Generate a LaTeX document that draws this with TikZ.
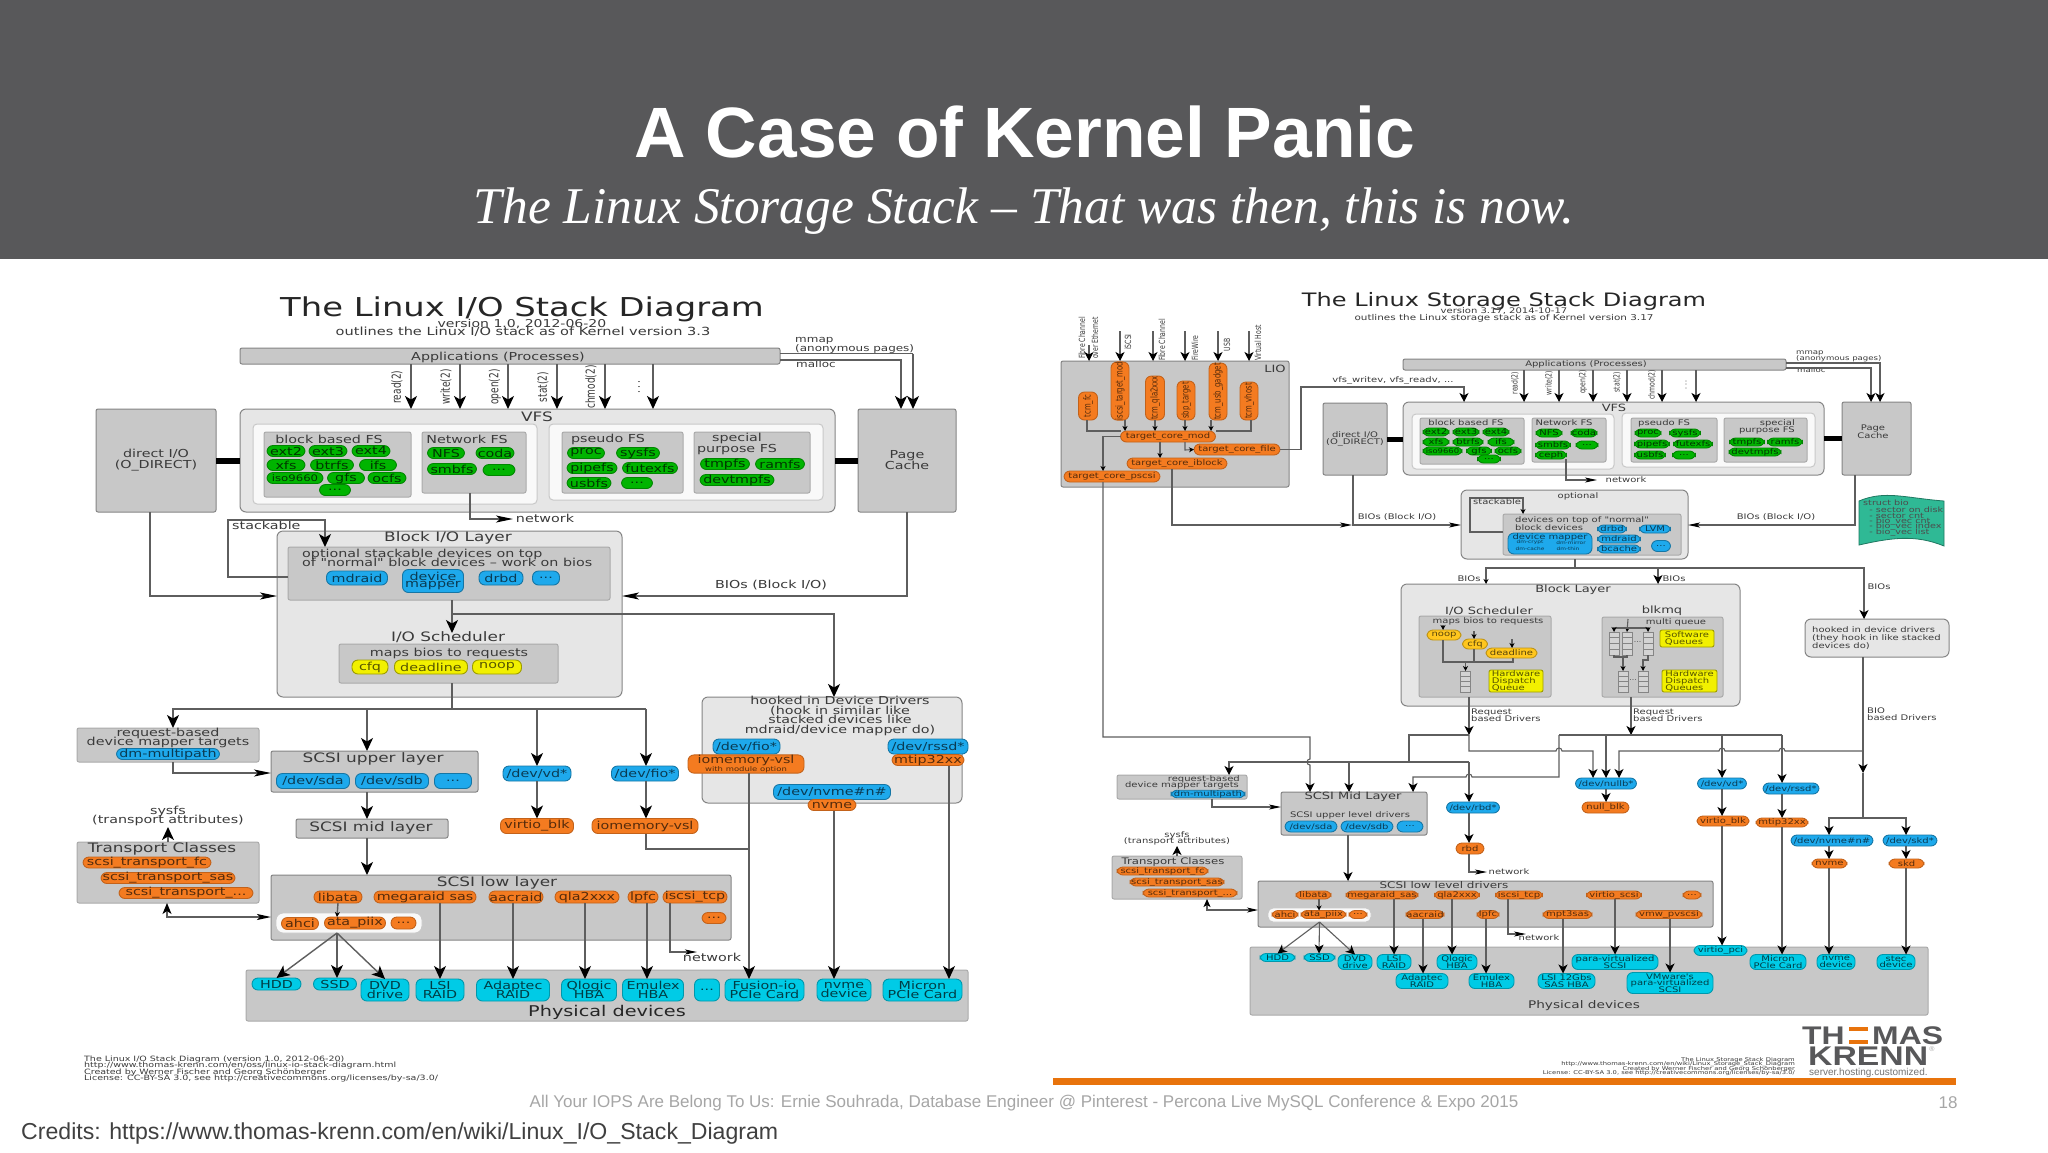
\documentclass[tikz,border=0pt]{standalone}
\usepackage{fontspec}
\usetikzlibrary{arrows.meta,calc}

\setmainfont{Liberation Sans}
\newfontfamily\dia[FakeStretch=1.3]{DejaVu Sans}
\newfontfamily\diaTall[FakeStretch=0.72]{DejaVu Sans}
\newfontfamily\serifFace{Liberation Serif}
\newfontfamily\logoFace[FakeStretch=1.25]{Liberation Sans}

\lineskiplimit=-100pt
\lineskip=0pt
\normallineskiplimit=-100pt
\normallineskip=0pt

\newcommand\dLeft{\dia\fontsize{11}{9.5}\selectfont}
\newcommand\dLeftB{\dia\fontsize{13}{11}\selectfont}
\newcommand\dLeftS{\dia\fontsize{9.2}{8}\selectfont}
\newcommand\dLeftV{\diaTall\fontsize{12.5}{12}\selectfont}
\newcommand\dRight{\dia\fontsize{7.7}{6.6}\selectfont}
\newcommand\dRightB{\dia\fontsize{10}{9}\selectfont}
\newcommand\dRightV{\diaTall\fontsize{8.5}{8}\selectfont}
\newcommand\dRightP{\diaTall\fontsize{9.6}{9}\selectfont}
\newcommand\threeDots{.\,.\,.}

\definecolor{bandGray}{HTML}{58585A}
\definecolor{boxGray}{HTML}{C8C8C8}
\definecolor{paleGray}{HTML}{E6E6E6}
\definecolor{panelWhite}{HTML}{F9F9F9}
\definecolor{frameGray}{HTML}{858585}
\definecolor{ink}{HTML}{3A3A3A}
\definecolor{lineGray}{HTML}{5E5E5E}
\definecolor{fsGreen}{HTML}{00B400}
\definecolor{blkBlue}{HTML}{1EA9EC}
\definecolor{drvOrange}{HTML}{F47B20}
\definecolor{devCyan}{HTML}{00CBE6}
\definecolor{schYellow}{HTML}{F2F000}
\definecolor{schGold}{HTML}{FFC61E}
\definecolor{bioGreen}{HTML}{2FB995}
\definecolor{barOrange}{HTML}{E8730C}
\definecolor{footGray}{HTML}{A6A6A6}

\tikzset{
  grayBox/.style 2 args={draw=frameGray,fill=boxGray,line width=1pt,rounded corners=2pt,anchor=north west,
    minimum width=#1pt,minimum height=#2pt,inner sep=0pt,outer sep=0pt,align=center},
  paleBox/.style 2 args={grayBox={#1}{#2},fill=paleGray,rounded corners=6pt},
  panelBox/.style 2 args={grayBox={#1}{#2},fill=panelWhite,draw=boxGray,rounded corners=4pt},
  softBox/.style 2 args={grayBox={#1}{#2},draw=boxGray!85!black},
  pill/.style 2 args={rounded corners=6pt,line width=0.9pt,minimum width=#1pt,minimum height=#2pt,
    inner sep=0pt,outer sep=0pt,align=center},
  fsPill/.style 2 args={pill={#1}{#2},fill=fsGreen,draw=fsGreen!75!black,text=fsGreen!30!black},
  blkPill/.style 2 args={pill={#1}{#2},fill=blkBlue,draw=blkBlue!70!black,text=blkBlue!35!black},
  drvPill/.style 2 args={pill={#1}{#2},fill=drvOrange,draw=drvOrange!80!black,text=drvOrange!35!black},
  devPill/.style 2 args={pill={#1}{#2},fill=devCyan,draw=devCyan!75!black,text=devCyan!30!black},
  schPill/.style 2 args={pill={#1}{#2},rounded corners=2pt,fill=schYellow,draw=schYellow!65!black,text=schYellow!35!black},
  capsule/.style={rounded corners=6pt},
  goldPill/.style 2 args={pill={#1}{#2},fill=schGold,draw=schGold!75!black,text=schGold!35!black},
  queueBox/.style 2 args={draw=frameGray,fill=boxGray!80,line width=0.8pt,minimum width=#1pt,minimum height=#2pt,
    inner sep=0pt,outer sep=0pt,path picture={\foreach \k in {.25,.5,.75}
      \draw[frameGray,line width=0.8pt] ($(path picture bounding box.north west)!\k!(path picture bounding box.south west)$)
        -- ($(path picture bounding box.north east)!\k!(path picture bounding box.south east)$);}},
  linkL/.style={draw=lineGray,line width=1.4pt},
  linkR/.style={draw=lineGray,line width=1.1pt},
  thickLink/.style={draw=black,line width=6pt},
  arrL/.style={-{Stealth[length=13pt,width=12pt,inset=3.5pt,color=black]}},
  arrLh/.style={-{Stealth[length=17pt,width=7pt,inset=4pt,color=black]}},
  arrR/.style={-{Stealth[length=9pt,width=9pt,inset=2.5pt,color=black]}},
  arrRh/.style={-{Stealth[length=12pt,width=5pt,inset=3pt,color=black]}},
  arrS/.style={-{Stealth[length=5pt,width=5pt,inset=1.5pt,color=black]}},
}

\begin{document}
\begin{tikzpicture}[x=1pt,y=-1pt]
  \useasboundingbox (0,0) rectangle (2048,1152);
  \fill[white] (0,0) rectangle (2048,1152);
  \fill[bandGray] (0,0) rectangle (2048,259);
  \node[white,font=\bfseries\fontsize{71.3}{71}\selectfont] at (1025,132) (SlideTitle) {A Case of Kernel Panic};
  \node[white,font=\serifFace\itshape\fontsize{51.5}{50}\selectfont] at (1024,211) (SlideSub) {The Linux Storage Stack – That was then, this is now.};

  % old stack
  \begin{scope}[nodes={font=\dLeft,text=ink,align=center,inner sep=0pt}]
    \node[font=\dia\fontsize{26}{26}\selectfont,text=black!85] at (522,309) (TitleL) {The Linux I/O Stack Diagram};
    \node[font=\dia\fontsize{10.8}{10}\selectfont] at (522,324) (VersionL) {version 1.0, 2012-06-20};
    \node[font=\dia\fontsize{11.2}{10}\selectfont] at (523,332) (OutlineL) {outlines the Linux I/O stack as of Kernel version 3.3};

    \node[grayBox={540}{16}] at (240,348) (AppsL) {};
    \node at (498,357) (AppsTextL) {Applications (Processes)};
    \node[grayBox={120}{103}] at (96,409) (DirectL) {direct I/O\\[1.5pt](O\_DIRECT)};
    \node[grayBox={98}{103}] at (858,409) (CacheL) {Page\\[1.5pt]Cache};
    \node[paleBox={595}{103}] at (240,409) (VfsL) {};
    \node[font=\dLeftB] at (537,417) (VfsTextL) {VFS};
    \node[panelBox={284}{80}] at (253,424) (PanelOneL) {};
    \node[panelBox={274}{76}] at (549,424) (PanelTwoL) {};

    \node[softBox={147}{65}] at (264,432) (BlockFsL) {};
    \node at (329,439) (BlockFsTextL) {block based FS};
    \node[fsPill={38}{11}] at (286,451) (Ext2L) {ext2};
    \node[fsPill={38}{11}] at (328,451) (Ext3L) {ext3};
    \node[fsPill={38}{11}] at (371,451) (Ext4L) {ext4};
    \node[fsPill={38}{11}] at (286,465) (XfsL) {xfs};
    \node[fsPill={43}{11}] at (332,465) (BtrfsL) {btrfs};
    \node[fsPill={37}{11}] at (378,465) (IfsL) {ifs};
    \node[fsPill={56}{11},font=\dia\fontsize{9}{9}\selectfont] at (295,478) (IsoL) {iso9660};
    \node[fsPill={37}{11}] at (346,478) (GfsL) {gfs};
    \node[fsPill={38}{11}] at (387,478) (OcfsL) {ocfs};
    \node[fsPill={31}{11}] at (335,490) (MoreBlockFsL) {...};
    \node[softBox={104}{61}] at (422,432) (NetFsL) {};
    \node at (467,439) (NetFsTextL) {Network FS};
    \node[fsPill={37}{11}] at (446,453) (NfsL) {NFS};
    \node[fsPill={38}{11}] at (495,453) (CodaL) {coda};
    \node[fsPill={49}{11}] at (452,469) (SmbfsL) {smbfs};
    \node[fsPill={32}{11}] at (499,470) (MoreNetFsL) {...};
    \node[softBox={121}{61}] at (562,432) (PseudoL) {};
    \node at (608,439) (PseudoTextL) {pseudo FS};
    \node[fsPill={37}{11}] at (586,453) (ProcL) {proc};
    \node[fsPill={43}{11}] at (638,453) (SysfsL) {sysfs};
    \node[fsPill={50}{11}] at (592,468) (PipefsL) {pipefs};
    \node[fsPill={55}{11}] at (650,468) (FutexfsL) {futexfs};
    \node[fsPill={44}{11}] at (589,483) (UsbfsL) {usbfs};
    \node[fsPill={31}{11}] at (637,483) (MorePseudoL) {...};
    \node[softBox={116}{61}] at (694,432) (SpecialL) {};
    \node at (737,444) (SpecialTextL) {special\\[1.5pt]purpose FS};
    \node[fsPill={49}{11}] at (725,464) (TmpfsL) {tmpfs};
    \node[fsPill={49}{11}] at (780,464) (RamfsL) {ramfs};
    \node[fsPill={74}{11}] at (737,480) (DevtmpfsL) {devtmpfs};

    \node[paleBox={345}{166}] at (277,531) (BlockIoL) {};
    \node[font=\dLeftB] at (448,538) (BlockIoTextL) {Block I/O Layer};
    \node[softBox={322}{53}] at (288,547) (StackBoxL) {};
    \node[align=left,anchor=west] at (302,558) (StackTextL) {optional stackable devices on top\\of "normal" block devices – work on bios};
    \node[blkPill={61}{14}] at (357,578) (MdraidL) {mdraid};
    \node[blkPill={61}{23}] at (433,581) (MapperL) {device\\[-2.5pt]mapper};
    \node[blkPill={44}{14}] at (501,578) (DrbdL) {drbd};
    \node[blkPill={27}{14}] at (546,578) (MoreStackL) {...};
    \node[font=\dLeftB] at (448,637) (SchedTextL) {I/O Scheduler};
    \node[softBox={219}{39}] at (339,644) (SchedBoxL) {};
    \node at (449,653) (SchedNoteL) {maps bios to requests};
    \node[schPill={36}{14},capsule] at (370,667) (CfqL) {cfq};
    \node[schPill={73}{14},capsule] at (431,667) (DeadlineL) {deadline};
    \node[schPill={49}{14},capsule] at (497,667) (NoopL) {noop};

    \node[softBox={182}{34}] at (77,728) (ReqBoxL) {};
    \node at (168,738) (ReqTextL) {request-based\\device mapper targets};
    \node[blkPill={103}{11}] at (168,754) (MultipathL) {dm-multipath};
    \node[grayBox={207}{41}] at (271,751) (UpperL) {};
    \node[font=\dLeftB] at (373,759) (UpperTextL) {SCSI upper layer};
    \node[blkPill={73}{15}] at (313,781) (SdaL) {/dev/sda};
    \node[blkPill={73}{15}] at (392,781) (SdbL) {/dev/sdb};
    \node[blkPill={37}{15}] at (453,781) (MoreUpperL) {...};
    \node[grayBox={152}{19}] at (296,819) (MidL) {};
    \node[font=\dLeftB] at (371,828) (MidTextL) {SCSI mid layer};
    \node[blkPill={68}{15}] at (537,773.5) (VdL) {/dev/vd*};
    \node[drvPill={73}{15}] at (537,826) (VirtioL) {virtio\_blk};
    \node[blkPill={67}{15}] at (645,773.5) (FioL) {/dev/fio*};
    \node[drvPill={106}{15}] at (645,826) (IomemL) {iomemory-vsl};

    \node[paleBox={260}{106}] at (702,697) (HookedL) {};
    \node at (840,716) (HookedTextL) {hooked in Device Drivers\\(hook in similar like\\stacked devices like\\mdraid/device mapper do)};
    \node[blkPill={67}{15}] at (746.5,746.5) (HookFioL) {/dev/fio*};
    \node[drvPill={116}{18}] at (746,764) (HookIomemL) {iomemory-vsl\\[-1pt]{\dia\fontsize{6.5}{6}\selectfont with module option}};
    \node[blkPill={80}{15}] at (928,746.5) (RssdL) {/dev/rssd*};
    \node[drvPill={72}{11}] at (928,760) (MtipL) {mtip32xx};
    \node[blkPill={117}{15}] at (832,792) (NvmeDevL) {/dev/nvme\#n\#};
    \node[drvPill={48}{11}] at (832,805) (NvmeL) {nvme};

    \node[softBox={182}{61}] at (77,842) (TransportL) {};
    \node[font=\dLeftB] at (162,849) (TransportTextL) {Transport Classes};
    \node[drvPill={128}{11}] at (147,862.5) (TransFcL) {scsi\_transport\_fc};
    \node[drvPill={134}{11}] at (168,878) (TransSasL) {scsi\_transport\_sas};
    \node[drvPill={134}{11}] at (186,893) (TransDotL) {scsi\_transport\_...};
    \node at (168,816) (SysfsTextL) {sysfs\\(transport attributes)};

    \node[grayBox={460}{65}] at (271,875) (LowL) {};
    \node[font=\dLeftB] at (497,883) (LowTextL) {SCSI low layer};
    \node[drvPill={48}{12}] at (338,897) (LibataL) {libata};
    \node[drvPill={102}{12}] at (425,897) (MegaraidL) {megaraid sas};
    \node[drvPill={54}{12}] at (516,897) (AacraidL) {aacraid};
    \node[drvPill={64}{12}] at (587,897) (QlaL) {qla2xxx};
    \node[drvPill={30}{12}] at (643,897) (LpfcL) {lpfc};
    \node[drvPill={64}{12}] at (695,897) (IscsiL) {iscsi\_tcp};
    \node[drvPill={24}{11}] at (714,918) (MoreLowL) {...};
    \node[pill={146}{20},fill=panelWhite,draw=boxGray,rounded corners=7pt] at (349,923) (AhciWrapL) {};
    \node[drvPill={37}{12}] at (300,923.5) (AhciL) {ahci};
    \node[drvPill={61}{12}] at (355,923) (PiixL) {ata\_piix};
    \node[drvPill={25}{12}] at (403.5,923) (MorePiixL) {...};
    \node at (712,957) (NetTwoL) {network};

    \node[softBox={722}{51}] at (246,970) (PhysL) {};
    \node[font=\dia\fontsize{14.8}{14.8}\selectfont,text=black!85] at (607,1012) (PhysTextL) {Physical devices};
    \node[devPill={49}{12}] at (276.5,984) (HddL) {HDD};
    \node[devPill={43}{12}] at (335,984) (SsdL) {SSD};
    \node[devPill={48}{22}] at (385,990) (DvdL) {DVD\\drive};
    \node[devPill={48}{22}] at (440,990) (LsiL) {LSI\\RAID};
    \node[devPill={73}{22}] at (513,990) (AdaptecL) {Adaptec\\RAID};
    \node[devPill={55}{22}] at (589,990) (QlogicL) {Qlogic\\HBA};
    \node[devPill={61}{22}] at (653,990) (EmulexL) {Emulex\\HBA};
    \node[devPill={25}{22}] at (707,990) (MorePhysL) {...};
    \node[devPill={79}{22}] at (764.5,990) (FusionL) {Fusion-io\\PCIe Card};
    \node[devPill={54}{22}] at (844,990) (NvmeCardL) {nvme\\device};
    \node[devPill={79}{22}] at (922.5,990) (MicronL) {Micron\\PCIe Card};

    \node[font=\dia\fontsize{7.3}{6.2}\selectfont,align=left,anchor=north west] at (84,1056) (CreditL) {The Linux I/O Stack Diagram (version 1.0, 2012-06-20)\\http://www.thomas-krenn.com/en/oss/linux-io-stack-diagram.html\\Created by Werner Fischer and Georg Schönberger\\License: CC-BY-SA 3.0, see http://creativecommons.org/licenses/by-sa/3.0/};

    \node[font=\dLeftS,anchor=west] at (795,341) (MmapL) {mmap};
    \node[font=\dLeftS,anchor=west] at (795,349) (AnonL) {(anonymous pages)};
    \node[font=\dLeftS,anchor=west] at (796,364) (MallocL) {malloc};
    \node at (545,518) (NetOneL) {network};
    \node[anchor=west] at (232,525) (StackableL) {stackable};
    \node at (771,585) (BiosL) {BIOs (Block I/O)};

    \foreach \nm/\x/\t in {Read/397/read(2),Write/446/write(2),Open/495/open(2),Stat/543/stat(2),Chmod/591/chmod(2),Dots/639/\threeDots}
      \node[rotate=90,font=\dLeftV] at (\x,387) (Call\nm L) {\t};
    \foreach \x in {411,460,508,557,605,653}
      \draw[linkL,arrL] (AppsL.south -| \x,0) -- (VfsL.north -| \x,0);

    \draw[thickLink] (DirectL.east) -- (VfsL.west);
    \draw[thickLink] (VfsL.east) -- (CacheL.west);
    \draw[linkL] (AppsL.east |- 0,353.5) -- (913,353.5);
    \draw[linkL,arrL] (913,353.5) -- (CacheL.north -| 913,0);
    \draw[linkL,arrL] (AppsL.east |- 0,360) -- (901,360) -- (CacheL.north -| 901,0);
    \draw[linkL,arrLh] (NetFsL.south -| 470,0) -- (470,519) -- (513,519);
    \draw[linkL,arrL] (StackBoxL.west |- 0,577) -- (228,577) -- (228,520) -- (325,520) -- (StackBoxL.north -| 325,0);
    \draw[linkL,arrLh] (DirectL.south -| 150,0) -- (150,596) -- (BlockIoL.west |- 0,596);
    \draw[linkL,arrLh] (CacheL.south) -- (CacheL.south |- 0,596) -- (BlockIoL.east |- 0,596);
    \draw[linkL,arrL] (StackBoxL.south -| 452,0) -- (452,633);
    \draw[linkL,arrL] (452,614) -- (834,614) -- (HookedL.north -| 834,0);
    \draw[linkL] (SchedBoxL.south -| 452,0) -- (452,709);
    \draw[linkL,arrL] (646,709) -- (173,709) -- (ReqBoxL.north -| 173,0);
    \draw[linkL,arrL] (367,709) -- (UpperL.north -| 367,0);
    \draw[linkL,arrL] (537,709) -- (VdL.north);
    \draw[linkL,arrL] (646,709) -- (FioL.north -| 646,0);
    \draw[linkL,arrLh] (ReqBoxL.south -| 173,0) -- (173,773) -- (UpperL.west |- 0,773);
    \draw[linkL,arrL] (UpperL.south -| 367,0) -- (MidL.north -| 367,0);
    \draw[linkL,arrL] (MidL.south -| 367,0) -- (LowL.north -| 367,0);
    \draw[linkL,arrL] (VdL.south) -- (VirtioL.north);
    \draw[linkL,arrL] (FioL.south -| 646,0) -- (IomemL.north -| 646,0);
    \draw[linkL] (IomemL.south -| 646,0) -- (646,849) -- (749,849);
    \draw[linkL,arrL] (HookIomemL.south -| 749,0) -- (FusionL.north -| 749,0);
    \draw[linkL,arrL] (NvmeL.south -| 834,0) -- (NvmeCardL.north -| 834,0);
    \draw[linkL,arrL] (MtipL.south -| 949,0) -- (MicronL.north -| 949,0);
    \draw[linkL,arrL] (TransportL.north -| 168,0) -- (168,827);
    \draw[linkL,{Stealth[length=11pt,width=9pt,inset=3pt,color=black]}-{Stealth[length=14pt,width=6pt,inset=3pt,color=black]}] (TransportL.south -| 167,0) -- (167,917) -- (LowL.west |- 0,917);
    \draw[linkL,arrS] (LibataL.south) -- (PiixL.north -| 337,0);
    \draw[linkL,arrL] (AhciWrapL.south -| 337,0) -- (HddL.north);
    \draw[linkL,arrL] (AhciWrapL.south -| 337,0) -- (SsdL.north -| 337,0);
    \draw[linkL,arrL] (AhciWrapL.south -| 337,0) -- (DvdL.north);
    \draw[linkL,arrL] (MegaraidL.south -| 440,0) -- (LsiL.north);
    \draw[linkL,arrL] (AacraidL.south -| 513,0) -- (AdaptecL.north);
    \draw[linkL,arrL] (QlaL.south -| 585,0) -- (QlogicL.north -| 585,0);
    \draw[linkL,arrL] (LpfcL.south -| 647,0) -- (EmulexL.north -| 647,0);
    \draw[linkL,arrRh] (IscsiL.south -| 670,0) -- (670,952) -- (697,952);
  \end{scope}

  % new stack
  \begin{scope}[nodes={font=\dRight,text=ink,align=center,inner sep=0pt}]
    \node[font=\dia\fontsize{18.5}{18.5}\selectfont,text=black!85] at (1504,301) (TitleR) {The Linux Storage Stack Diagram};
    \node[font=\dia\fontsize{7.7}{7}\selectfont] at (1504,311.5) (VersionR) {version 3.17, 2014-10-17};
    \node[font=\dia\fontsize{8}{7}\selectfont] at (1504,318) (OutlineR) {outlines the Linux storage stack as of Kernel version 3.17};

    \node[grayBox={228}{126}] at (1061,361) (LioR) {};
    \node[font=\dRightB] at (1275,369) (LioTextR) {LIO};
    \node[drvPill={28}{19},rotate=90,font=\dRightP] at (1088,406) (TcmFcR) {tcm\_fc};
    \node[drvPill={58}{18},rotate=90,font=\dRightP] at (1120,391) (TargetModR) {iscsi\_target\_mod};
    \node[drvPill={44}{19},rotate=90,font=\dRightP] at (1155,398) (TcmQlaR) {tcm\_qla2xxx};
    \node[drvPill={39}{18},rotate=90,font=\dRightP] at (1186,400.5) (SbpR) {sbp\_target};
    \node[drvPill={57}{18},rotate=90,font=\dRightP] at (1218,391.5) (TcmUsbR) {tcm\_usb\_gadget};
    \node[drvPill={38}{18},rotate=90,font=\dRightP] at (1249,401) (TcmVhostR) {tcm\_vhost};
    \node[drvPill={95}{11}] at (1168,436.5) (CoreModR) {target\_core\_mod};
    \node[drvPill={86}{11}] at (1237,449.5) (CoreFileR) {target\_core\_file};
    \node[drvPill={100}{11}] at (1177,463.5) (CoreBlockR) {target\_core\_iblock};
    \node[drvPill={96}{11}] at (1112,476.5) (CorePscsiR) {target\_core\_pscsi};

    \node[grayBox={383}{11}] at (1403,359) (AppsR) {};
    \node at (1586,364.5) (AppsTextR) {Applications (Processes)};
    \node[grayBox={64}{72}] at (1323,403) (DirectR) {direct I/O\\[1pt](O\_DIRECT)};
    \node[grayBox={69}{73}] at (1842,402) (CacheR) {};
    \node at (1873,432) (CacheTextR) {Page\\[1pt]Cache};
    \node[paleBox={421}{73}] at (1403,402) (VfsR) {};
    \node[font=\dRightB] at (1614,408) (VfsTextR) {VFS};
    \node[panelBox={202}{55}] at (1412,414) (PanelOneR) {};
    \node[panelBox={193}{54}] at (1622,413) (PanelTwoR) {};
    \node[softBox={104}{46}] at (1420,418) (BlockFsR) {};
    \node at (1466,423) (BlockFsTextR) {block based FS};
    \node[fsPill={26}{8}] at (1436,432) (Ext2R) {ext2};
    \node[fsPill={26}{8}] at (1466,432) (Ext3R) {ext3};
    \node[fsPill={26}{8}] at (1496,432) (Ext4R) {ext4};
    \node[fsPill={26}{8}] at (1436,442) (XfsR) {xfs};
    \node[fsPill={30}{8}] at (1468,442) (BtrfsR) {btrfs};
    \node[fsPill={26}{8}] at (1501,442) (IfsR) {ifs};
    \node[fsPill={39}{8},font=\dia\fontsize{6.5}{6}\selectfont] at (1442.5,451) (IsoR) {iso9660};
    \node[fsPill={25}{8}] at (1479,451) (GfsR) {gfs};
    \node[fsPill={26}{8}] at (1508,451) (OcfsR) {ocfs};
    \node[fsPill={23}{8}] at (1489,459) (MoreBlockFsR) {...};
    \node[softBox={74}{44}] at (1532,418) (NetFsR) {};
    \node at (1564,423) (NetFsTextR) {Network FS};
    \node[fsPill={26}{8}] at (1549,433) (NfsR) {NFS};
    \node[fsPill={26}{8}] at (1584,433) (CodaR) {coda};
    \node[fsPill={35}{8}] at (1553,445) (SmbfsR) {smbfs};
    \node[fsPill={22}{8}] at (1587,445) (MoreNetFsR) {...};
    \node[fsPill={31}{8}] at (1551,455) (CephR) {ceph};
    \node[softBox={86}{44}] at (1631,418) (PseudoR) {};
    \node at (1664,423) (PseudoTextR) {pseudo FS};
    \node[fsPill={26}{8}] at (1648,433) (ProcR) {proc};
    \node[fsPill={31}{8}] at (1685,433) (SysfsR) {sysfs};
    \node[fsPill={35}{8}] at (1652,444) (PipefsR) {pipefs};
    \node[fsPill={39}{8}] at (1693,444) (FutexfsR) {futexfs};
    \node[fsPill={31}{8}] at (1650,455) (UsbfsR) {usbfs};
    \node[fsPill={23}{8}] at (1684,455) (MorePseudoR) {...};
    \node[softBox={83}{44}] at (1724,418) (SpecialR) {};
    \node[anchor=east,align=right] at (1795,427) (SpecialTextR) {special\\[1pt]purpose FS};
    \node[fsPill={35}{8}] at (1747,442) (TmpfsR) {tmpfs};
    \node[fsPill={35}{8}] at (1785,442) (RamfsR) {ramfs};
    \node[fsPill={52}{8}] at (1755,452) (DevtmpfsR) {devtmpfs};

    \draw[draw=bioGreen!65!black,fill=bioGreen,line width=0.8pt] (1859,501) .. controls (1885,490) and (1905,498) .. (1944,501) -- (1944,546) .. controls (1915,534) and (1890,538) .. (1859,545) -- cycle;
    \node[align=left,anchor=north west,text=black!70,font=\dia\fontsize{7.4}{5.4}\selectfont] at (1863,500) (StructBioR) {struct bio\\[1.5pt]\ \ - sector on disk\\\ \ - sector cnt\\\ \ - bio\_vec cnt\\\ \ - bio\_vec index\\\ \ - bio\_vec list};

    \node[paleBox={227}{69}] at (1461,490) (OptionalR) {};
    \node at (1578,496) (OptionalTextR) {optional};
    \node[softBox={178}{41}] at (1503,514) (StackBoxR) {};
    \node[align=left,anchor=west] at (1515,524) (StackTextR) {devices on top of "normal"\\[1.5pt]block devices};
    \node[blkPill={84}{21}] at (1550,543.5) (MapperR) {};
    \node[text=blkBlue!35!black] at (1550,537) (MapperTextR) {device mapper};
    \node[font=\dia\fontsize{4.5}{4.5}\selectfont,text=blkBlue!35!black] at (1530,542.5) (CryptR) {dm-crypt};
    \node[font=\dia\fontsize{4.5}{4.5}\selectfont,text=blkBlue!35!black] at (1571,542.5) (MirrorR) {dm-mirror};
    \node[font=\dia\fontsize{4.5}{4.5}\selectfont,text=blkBlue!35!black] at (1530,548.5) (CacheDmR) {dm-cache};
    \node[font=\dia\fontsize{4.5}{4.5}\selectfont,text=blkBlue!35!black] at (1568,548.5) (ThinR) {dm-thin};
    \node[blkPill={29}{8}] at (1612,529) (DrbdR) {drbd};
    \node[blkPill={31}{8}] at (1655,529) (LvmR) {LVM};
    \node[blkPill={43}{8}] at (1619,539) (MdraidR) {mdraid};
    \node[blkPill={43}{8}] at (1619,549) (BcacheR) {bcache};
    \node[blkPill={19}{11}] at (1661,546) (MoreStackR) {...};

    \node[paleBox={339}{122}] at (1401,584) (BlockR) {};
    \node[font=\dRightB] at (1573,590) (BlockTextR) {Block Layer};
    \node[font=\dRightB] at (1489,611) (SchedTextR) {I/O Scheduler};
    \node[softBox={132}{81}] at (1419,616) (SchedBoxR) {};
    \node at (1488,621) (SchedNoteR) {maps bios to requests};
    \node[goldPill={34}{10}] at (1444,635) (NoopR) {noop};
    \node[goldPill={25}{10}] at (1475,644) (CfqR) {cfq};
    \node[goldPill={51}{10}] at (1511.5,653) (DeadlineR) {deadline};
    \node[queueBox={10}{21}] at (1465.5,681.5) (QueueR) {};
    \node[schPill={54}{22},align=left] at (1516,681) (DispatchR) {Hardware\\Dispatch\\Queue};
    \node[font=\dRightB] at (1662,611) (MqTextR) {blkmq};
    \node[softBox={121}{80}] at (1602,617) (MqBoxR) {};
    \node at (1676,622) (MqNoteR) {multi queue};
    \node[schPill={54}{17},align=left] at (1687,638.5) (SoftQueueR) {Software\\Queues};
    \node[schPill={55}{22},align=left] at (1689.5,681) (MqDispatchR) {Hardware\\Dispatch\\Queues};
    \node[queueBox={10}{23}] at (1614,643.5) (SwOneR) {};
    \node[queueBox={10}{23}] at (1627,643.5) (SwTwoR) {};
    \node[queueBox={10}{23}] at (1648,643.5) (SwThreeR) {};
    \node[queueBox={10}{21}] at (1623,681.5) (HwOneR) {};
    \node[queueBox={10}{21}] at (1643,681.5) (HwTwoR) {};
    \node[font=\dia\fontsize{6}{6}\selectfont] at (1637.5,642) (SwDotsR) {...};
    \node[font=\dia\fontsize{6}{6}\selectfont] at (1633,680) (HwDotsR) {...};
    \node[align=left,anchor=west] at (1471,715.5) (ReqNoteOneR) {Request\\based Drivers};
    \node[align=left,anchor=west] at (1633,715.5) (ReqNoteTwoR) {Request\\based Drivers};
    \node at (1469,579) (BiosOneR) {BIOs};
    \node at (1674,579) (BiosTwoR) {BIOs};
    \node at (1879,587) (BiosThreeR) {BIOs};

    \node[paleBox={144}{38}] at (1805,619) (HookedR) {};
    \node[align=left,anchor=west] at (1812,638) (HookedTextR) {hooked in device drivers\\[1.5pt](they hook in like stacked\\[1.5pt]devices do)};
    \node[align=left,anchor=west] at (1867,714) (BioNoteR) {BIO\\based Drivers};

    \node[softBox={130}{24}] at (1117,775) (ReqBoxR) {};
    \node[anchor=east] at (1240,779) (ReqTextOneR) {request-based};
    \node at (1182,785) (ReqTextTwoR) {device mapper targets};
    \node[blkPill={74}{7}] at (1208,794) (MultipathR) {dm-multipath};
    \node[grayBox={146}{43}] at (1281,792) (MidR) {};
    \node[font=\dRightB] at (1353,797) (MidTextR) {SCSI Mid Layer};
    \node at (1350,815) (UpperTextR) {SCSI upper level drivers};
    \node[blkPill={52}{11}] at (1311,826.5) (SdaR) {/dev/sda};
    \node[blkPill={52}{11}] at (1367,826.5) (SdbR) {/dev/sdb};
    \node[blkPill={26}{11}] at (1410,826.5) (MoreUpperR) {...};
    \node[blkPill={53}{11}] at (1473,807.5) (RbdDevR) {/dev/rbd*};
    \node[drvPill={28}{11}] at (1470,848.5) (RbdR) {rbd};
    \node at (1509,872) (NetRbdR) {network};
    \node[blkPill={61}{11}] at (1606,783.5) (NullDevR) {/dev/nullb*};
    \node[drvPill={47}{11}] at (1605.5,807.5) (NullBlkR) {null\_blk};
    \node[blkPill={49}{11}] at (1722,783.5) (VdR) {/dev/vd*};
    \node[drvPill={52}{10}] at (1723,821) (VirtioBlkR) {virtio\_blk};
    \node[blkPill={56}{11}] at (1791,788.5) (RssdR) {/dev/rssd*};
    \node[drvPill={52}{9}] at (1782,822.5) (MtipR) {mtip32xx};
    \node[blkPill={82}{11}] at (1832,840.5) (NvmeDevR) {/dev/nvme\#n\#};
    \node[blkPill={54}{11}] at (1910,840.5) (SkdDevR) {/dev/skd*};
    \node[drvPill={35}{9}] at (1829.5,863.5) (NvmeR) {nvme};
    \node[drvPill={35}{9}] at (1906.5,863.5) (SkdR) {skd};

    \node[softBox={130}{43}] at (1112,856) (TransportR) {};
    \node[font=\dia\fontsize{9}{9}\selectfont] at (1173,862) (TransportTextR) {Transport Classes};
    \node[drvPill={91}{8}] at (1162.5,871) (TransFcR) {scsi\_transport\_fc};
    \node[drvPill={94}{8}] at (1177,882) (TransSasR) {scsi\_transport\_sas};
    \node[drvPill={94}{8}] at (1190,893) (TransDotR) {scsi\_transport\_...};
    \node at (1177,838.5) (SysfsTextR) {sysfs\\(transport attributes)};

    \node[grayBox={455}{46}] at (1258,881) (LowR) {};
    \node[font=\dia\fontsize{9.2}{9}\selectfont] at (1444,885) (LowTextR) {SCSI low level drivers};
    \node[drvPill={35}{8}] at (1313.5,895) (LibataR) {libata};
    \node[drvPill={72}{8}] at (1382,895) (MegaraidR) {megaraid\_sas};
    \node[drvPill={45}{8}] at (1457,895) (QlaR) {qla2xxx};
    \node[drvPill={47}{8}] at (1519,895) (IscsiR) {iscsi\_tcp};
    \node[drvPill={55}{8}] at (1614,895) (VirtioScsiR) {virtio\_scsi};
    \node[drvPill={18}{8}] at (1692,895) (MoreLowR) {...};
    \node[pill={103}{14},fill=panelWhite,draw=boxGray,rounded corners=5pt] at (1319.5,915) (AhciWrapR) {};
    \node[drvPill={26}{8}] at (1285,914.5) (AhciR) {ahci};
    \node[drvPill={45}{8}] at (1323.5,914.5) (PiixR) {ata\_piix};
    \node[drvPill={18}{8}] at (1358,914.5) (MorePiixR) {...};
    \node[drvPill={38}{8}] at (1425,914.5) (AacraidR) {aacraid};
    \node[drvPill={22}{8}] at (1488,914.5) (LpfcR) {lpfc};
    \node[drvPill={49}{8}] at (1567.5,914.5) (MptR) {mpt3sas};
    \node[drvPill={66}{8}] at (1669,914.5) (VmwR) {vmw\_pvscsi};
    \node at (1539,938) (NetScsiR) {network};

    \node[softBox={678}{68}] at (1250,947) (PhysR) {};
    \node[font=\dia\fontsize{10.5}{10}\selectfont] at (1584,1006) (PhysTextR) {Physical devices};
    \node[devPill={35}{8}] at (1277.5,957.5) (HddR) {HDD};
    \node[devPill={31}{8}] at (1319.5,957.5) (SsdR) {SSD};
    \node[devPill={34}{15}] at (1355,962) (DvdR) {DVD\\drive};
    \node[devPill={34}{15}] at (1394,962) (LsiR) {LSI\\RAID};
    \node[devPill={40}{15}] at (1457,962) (QlogicR) {Qlogic\\HBA};
    \node[devPill={52}{15}] at (1422,981) (AdaptecR) {Adaptec\\RAID};
    \node[devPill={45}{15}] at (1491.5,981) (EmulexR) {Emulex\\HBA};
    \node[devPill={57}{15}] at (1566.5,981) (Sas12R) {LSI 12Gbs\\SAS HBA};
    \node[devPill={86}{15}] at (1615,962) (ParaR) {para-virtualized\\SCSI};
    \node[devPill={86}{21}] at (1670,983) (VmwareR) {VMware's\\para-virtualized\\SCSI};
    \node[devPill={53}{10}] at (1720.5,950.5) (VirtioPciR) {virtio\_pci};
    \node[devPill={56}{15}] at (1778,962) (MicronR) {Micron\\PCIe Card};
    \node[devPill={38}{15}] at (1836,962) (NvmeCardR) {nvme\\device};
    \node[devPill={38}{15}] at (1896,962) (StecR) {stec\\device};

    \node[font=\dia\fontsize{6.6}{6}\selectfont,anchor=west] at (1796,353) (MmapR) {mmap};
    \node[font=\dia\fontsize{6.6}{6}\selectfont,anchor=west] at (1796,359) (AnonR) {(anonymous pages)};
    \node[font=\dia\fontsize{6.6}{6}\selectfont,anchor=west] at (1797,370) (MallocR) {malloc};
    \node at (1393,380) (WritevR) {vfs\_writev, vfs\_readv, ...};
    \node at (1397,517) (BiosBlockR) {BIOs (Block I/O)};
    \node at (1776,517) (BiosCacheR) {BIOs (Block I/O)};
    \node at (1626,480) (NetVfsR) {network};

    \foreach \nm/\x/\y/\t in {Read/1515/383/read(2),Write/1549/383/write(2),Open/1583/382/open(2),Stat/1617/382/stat(2),Chmod/1652/385/chmod(2),Dots/1686/385/\threeDots}
      \node[rotate=90,font=\dRightV] at (\x,\y) (Call\nm R) {\t};
    \foreach \x in {1524,1559,1593,1627,1662,1696}
      \draw[linkR,arrR] (AppsR.south -| \x,0) -- (VfsR.north -| \x,0);

    \foreach \nm/\x/\y/\t in {FcoeA/1082/338/Fibre Channel,FcoeB/1095/338/over Ethernet,Iscsi/1128/342/iSCSI,Fc/1162/340/Fibre Channel,Fire/1195/348/FireWire,Usb/1227/345/USB,Virt/1258/343/Virtual Host}
      \node[rotate=90,font=\dRightV] at (\x,\y) (Port\nm R) {\t};
    \foreach \nm/\x/\y in {Fcoe/1089/345,Iscsi/1120/331,Fc/1153/331,Fire/1185/331,Usb/1218/331,Virt/1249/331}{
      \coordinate (In\nm) at (\x,\y);
      \draw[linkR,arrR] (In\nm) -- (LioR.north -| \x,0);
    }

    \draw[linkR] (TcmFcR.west -| 1087,0) -- (1087,431) -- (CoreModR.north west);
    \draw[linkR,arrS] (TargetModR.west -| 1125,0) -- (CoreModR.north -| 1125,0);
    \draw[linkR,arrS] (TcmQlaR.west) -- (CoreModR.north -| 1155,0);
    \draw[linkR,arrS] (SbpR.west -| 1185,0) -- (CoreModR.north -| 1185,0);
    \draw[linkR,arrS] (TcmUsbR.west -| 1211,0) -- (CoreModR.north -| 1211,0);
    \draw[linkR] (TcmVhostR.west -| 1251,0) -- (1251,431) -- (CoreModR.north east);
    \draw[linkR,arrS] (CoreModR.south -| 1185,0) -- (1185,450) -- (CoreFileR.west);
    \draw[linkR,arrS] (CoreModR.south -| 1160,0) -- (CoreBlockR.north -| 1160,0);
    \draw[linkR,arrS] (CoreModR.west) -- (1103,436.5) -- (CorePscsiR.north -| 1103,0);
    \draw[linkR,arrR] (CoreFileR.east) -- (1301,449.5) -- (1301,387) -- (1464,387) -- (VfsR.north -| 1464,0);
    \draw[linkR,arrRh] (CoreBlockR.south -| 1172,0) -- (1172,525) -- (1352,525);
    \draw[linkR,arrRh] (DirectR.south -| 1353,0) -- (1353,525) -- (OptionalR.west |- 0,525);
    \draw[linkR,arrR] (CorePscsiR.south -| 1103,0) -- (1103,737) -- (1310,737) -- (1310,759) arc[start angle=90,end angle=270,radius=3pt] -- (MidR.north -| 1310,0);

    \draw[thickLink,line width=5pt] (DirectR.east) -- (DirectR.east -| VfsR.west);
    \draw[thickLink,line width=5pt] (VfsR.east) -- (VfsR.east -| CacheR.west);
    \draw[linkR,arrR] (AppsR.east |- 0,363) -- (1880,363) -- (CacheR.north -| 1880,0);
    \draw[linkR,arrR] (AppsR.east |- 0,368) -- (1871,368) -- (CacheR.north -| 1871,0);
    \draw[linkR,arrRh] (CephR.south -| 1566,0) -- (1566,480) -- (1597,480);
    \draw[linkR,arrRh] (CacheR.south -| 1855,0) -- (1855,525) -- (OptionalR.east |- 0,525);
    \draw[linkR,arrS] (StackBoxR.west |- 0,532) -- (1470,532) -- (1470,498) -- (1523,498) -- (StackBoxR.north -| 1523,0);
    \node[anchor=west] at (1473,501.5) (StackableR) {stackable};

    \coordinate (OptBus) at (1575,568);
    \draw[linkR] (OptionalR.south -| 1575,0) -- (OptBus);
    \draw[linkR,arrS] (OptBus) -- (1486,568) -- (BlockR.north -| 1486,0);
    \draw[linkR,arrR] (OptBus -| 1658,0) -- (BlockR.north -| 1658,0);
    \draw[linkR,arrR] (OptBus) -- (1864,568) -- (HookedR.north -| 1864,0);

    \draw[linkR,arrS] (SchedBoxR.north -| 1443,0) ++(0,9) -- (NoopR.north -| 1443,0);
    \draw[linkR,arrS] (NoopR.north -| 1474,0) ++(0,1) -- (CfqR.north -| 1474,0);
    \draw[linkR,arrS] (CfqR.north -| 1512,0) ++(0,0) -- (DeadlineR.north -| 1512,0);
    \draw[linkR] (NoopR.south -| 1443,0) -- (1443,662) -- (1513,662) -- (DeadlineR.south -| 1513,0);
    \draw[linkR] (CfqR.south -| 1474,0) -- (1474,662);
    \draw[linkR,arrS] (1465.5,662) -- (QueueR.north);

    \coordinate (MqIn) at (1628,619);
    \draw[linkR,arrS] (MqIn) -- (SwTwoR.north);
    \draw[linkR,arrS] (1628,628) -- (1614,628) -- (SwOneR.north);
    \draw[linkR,arrS] (1628,628) -- (1648,628) -- (SwThreeR.north);
    \draw[linkR] (SwOneR.south) -- (1614,657) -- (1627,657) -- (SwTwoR.south);
    \draw[linkR,arrS] (1623,657) -- (HwOneR.north);
    \draw[linkR,arrS] (SwThreeR.south) -- (1648,660) -- (1643,660) -- (HwTwoR.north);

    \coordinate (RqBus) at (1469,735);
    \coordinate (MqBus) at (1631,735);
    \coordinate (BioBus) at (1863,751);
    \coordinate (LowBus) at (1469,762);
    \draw[linkR,arrR] (SchedBoxR.south -| 1469,0) -- (RqBus);
    \draw[linkR,arrR] (MqBoxR.south -| 1631,0) -- (MqBus);
    \draw[linkR] (RqBus) -- (1409,735) -- (1409,762);
    \draw[linkR,arrR] (LowBus) -- (1229,762) -- (ReqBoxR.north -| 1229,0);
    \draw[linkR,arrR] (1349,762) -- (MidR.north -| 1349,0);
    \draw[linkR,arrR] (LowBus) -- (RbdDevR.north -| 1469,0);
    \draw[linkR,arrR] (RqBus) -- (1469,751) -- (1556,751) arc[start angle=180,end angle=0,radius=3pt] -- (1593,751) -- (NullDevR.north -| 1593,0);
    \draw[linkR,arrR] (MqBus -| 1559,0) -- (1559,777) -- (1472,777) arc[start angle=0,end angle=180,radius=3pt] -- (1413,777) -- (MidR.north -| 1413,0);
    \draw[linkR] (MqBus -| 1559,0) -- (MqBus -| 1782,0);
    \draw[linkR,arrR] (MqBus -| 1606,0) -- (NullDevR.north);
    \draw[linkR,arrR] (MqBus -| 1722,0) -- (VdR.north);
    \draw[linkR,arrR] (MqBus -| 1782,0) -- (RssdR.north -| 1782,0);
    \draw[linkR,arrR] (BioBus) -- (1785,751) arc[start angle=0,end angle=180,radius=3pt] -- (1725,751) arc[start angle=0,end angle=180,radius=3pt] -- (1619,751) -- (NullDevR.north -| 1619,0);
    \draw[linkR,arrR] (HookedR.south -| 1863,0) -- (1863,773);
    \draw[linkR] (1863,773) -- (1863,818);
    \draw[linkR,arrR] (1863,818) -- (1829,818) -- (NvmeDevR.north -| 1829,0);
    \draw[linkR,arrR] (1863,818) -- (1906,818) -- (SkdDevR.north -| 1906,0);

    \draw[linkR,arrRh] (ReqBoxR.south -| 1212,0) -- (1212,807) -- (MidR.west |- 0,807);
    \draw[linkR,arrR] (MidR.south -| 1348,0) -- (LowR.north -| 1348,0);
    \draw[linkR,arrR] (RbdDevR.south -| 1469,0) -- (RbdR.north -| 1469,0);
    \draw[linkR,arrRh] (RbdR.south -| 1469,0) -- (1469,872) -- (1487,872);
    \draw[linkR,arrR] (NullDevR.south) -- (NullBlkR.north -| 1606,0);
    \draw[linkR,arrR] (VdR.south) -- (VirtioBlkR.north -| 1722,0);
    \draw[linkR,arrR] (RssdR.south -| 1782,0) -- (MtipR.north);
    \draw[linkR,arrR] (NvmeDevR.south -| 1829,0) -- (NvmeR.north -| 1829,0);
    \draw[linkR,arrR] (SkdDevR.south -| 1906,0) -- (SkdR.north -| 1906,0);
    \draw[linkR,arrR] (VirtioBlkR.south -| 1722,0) -- (VirtioPciR.north -| 1722,0);
    \draw[linkR,arrR] (MtipR.south) -- (MicronR.north -| 1782,0);
    \draw[linkR,arrR] (NvmeR.south -| 1829,0) -- (NvmeCardR.north -| 1829,0);
    \draw[linkR,arrR] (SkdR.south -| 1906,0) -- (StecR.north -| 1906,0);

    \draw[linkR,arrR] (TransportR.north -| 1177,0) -- (1177,846);
    \draw[linkR,{Stealth[length=8pt,width=7pt,inset=2pt,color=black]}-{Stealth[length=11pt,width=5pt,inset=3pt,color=black]}] (TransportR.south -| 1207,0) -- (1207,910) -- (LowR.west |- 0,910);
    \draw[linkR,arrS] (LibataR.south -| 1319,0) -- (PiixR.north -| 1319,0);
    \draw[linkR,arrR] (AhciWrapR.south) -- (HddR.north);
    \draw[linkR,arrR] (AhciWrapR.south) -- (SsdR.north -| 1319,0);
    \draw[linkR,arrR] (AhciWrapR.south) -- (DvdR.north);
    \draw[linkR,arrR] (MegaraidR.south -| 1394,0) -- (LsiR.north);
    \draw[linkR,arrR] (AacraidR.south -| 1423,0) -- (AdaptecR.north -| 1423,0);
    \draw[linkR,arrR] (QlaR.south -| 1452,0) -- (QlogicR.north -| 1452,0);
    \draw[linkR,arrR] (LpfcR.south -| 1486,0) -- (EmulexR.north -| 1486,0);
    \draw[linkR,arrRh] (IscsiR.south -| 1508,0) -- (1508,934) -- (1526,934);
    \draw[linkR,arrR] (MptR.south -| 1563,0) -- (Sas12R.north -| 1563,0);
    \draw[linkR,arrR] (VirtioScsiR.south -| 1615,0) -- (ParaR.north);
    \draw[linkR,arrR] (VmwR.south -| 1670,0) -- (VmwareR.north);

    \node[font=\dia\fontsize{5.2}{4.5}\selectfont,align=right,anchor=north east] at (1795,1057) (CreditR) {The Linux Storage Stack Diagram\\http://www.thomas-krenn.com/en/wiki/Linux\_Storage\_Stack\_Diagram\\Created by Werner Fischer and Georg Schönberger\\License: CC-BY-SA 3.0, see http://creativecommons.org/licenses/by-sa/3.0/};
  \end{scope}

  \node[text=bandGray,font=\logoFace\bfseries\fontsize{25.5}{25}\selectfont,anchor=west,inner sep=0pt] at (1802,1036) (LogoTh) {TH};
  \fill[barOrange] (1849,1027) rectangle (1868,1031);
  \fill[barOrange] (1849,1040) rectangle (1868,1044);
  \node[text=bandGray,font=\logoFace\bfseries\fontsize{25.5}{25}\selectfont,anchor=west,inner sep=0pt] at (1872,1036) (LogoMas) {MAS};
  \node[text=bandGray,font=\logoFace\bfseries\fontsize{27}{26}\selectfont,anchor=west,inner sep=0pt] at (1808,1056) (LogoKrenn) {KRENN};
  \node[text=footGray,font=\fontsize{7}{7}\selectfont,inner sep=0pt] at (1932,1049) (LogoMark) {®};
  \node[text=black!55,font=\fontsize{10}{10}\selectfont,anchor=west,inner sep=0pt] at (1809,1073) (LogoLine) {server.hosting.customized.};
  \fill[barOrange] (1053,1078) rectangle (1956,1085);

  \node[text=footGray,font=\fontsize{17}{17}\selectfont] at (1024,1103) (FooterNote) {All Your IOPS Are Belong To Us: Ernie Souhrada, Database Engineer @ Pinterest - Percona Live MySQL Conference \& Expo 2015};
  \node[text=footGray,font=\fontsize{17}{17}\selectfont] at (1948,1103) (PageNo) {18};
  \node[text=black!75,font=\fontsize{23.1}{23}\selectfont,anchor=west,inner sep=0pt] at (21,1134) (CreditLine) {Credits: https://www.thomas-krenn.com/en/wiki/Linux\_I/O\_Stack\_Diagram};
\end{tikzpicture}
\end{document}
